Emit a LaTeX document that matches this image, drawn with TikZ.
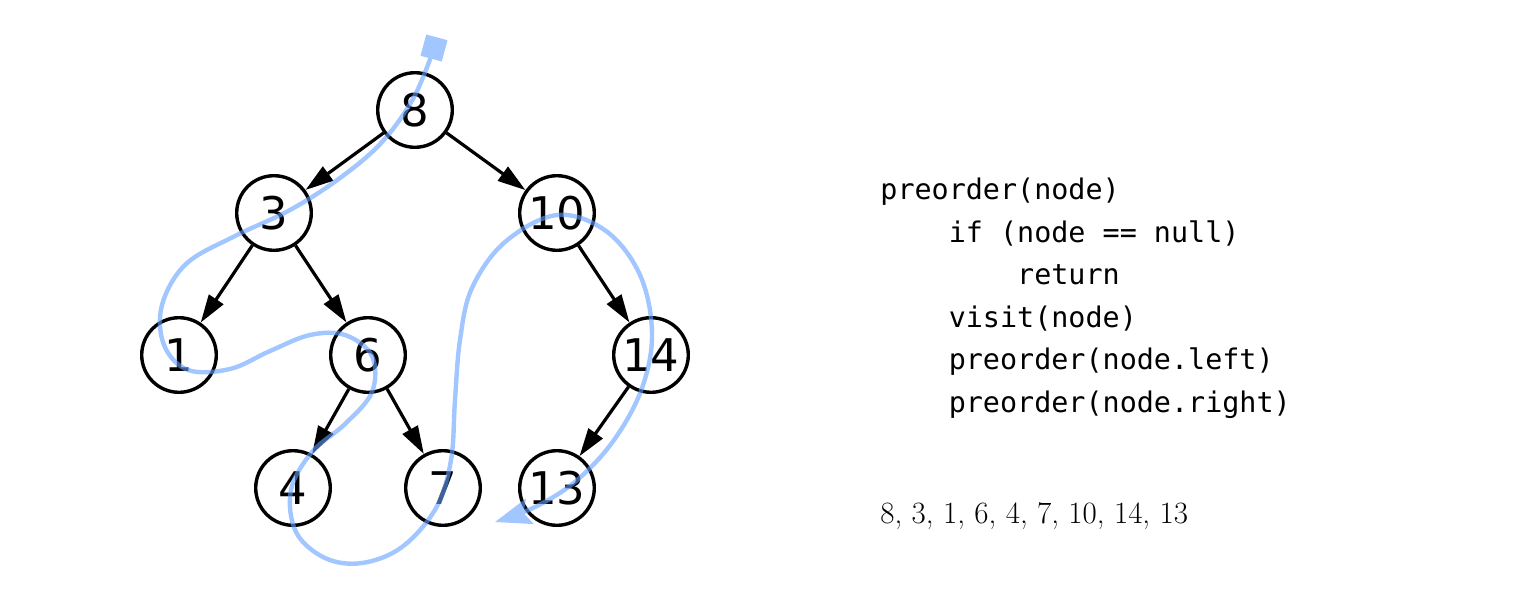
\documentclass[tikz,border=0pt]{standalone}
\usepackage{fontspec}
\newfontfamily\nodefont{DejaVu Sans}
\newfontfamily\codefont{DejaVu Sans Mono}
\usetikzlibrary{arrows.meta}

\definecolor{trail}{RGB}{100,160,255}
\newcommand\indentstep{\phantom{xxxx}}

\begin{document}
\begin{tikzpicture}[x=0.5pt,y=-0.5pt,
  tree/.style={circle, draw, line width=1.7pt, minimum size=37.3pt, inner sep=0pt,
    font=\nodefont\fontsize{22.5}{22.5}\selectfont},
  link/.style={line width=1.6pt, -{Triangle[length=14pt,width=8.5pt]}},
  walk/.style={draw=trail, line width=2.2pt,
    -{Stealth[length=18pt,width=13pt,inset=3pt]}},
  startmark/.style={fill=trail, minimum size=11pt, inner sep=0pt, rotate=-15},
  code/.style={anchor=base west, inner sep=0pt, font=\codefont\fontsize{14.2}{17}\selectfont},
  result/.style={anchor=base west, inner sep=0pt, font=\fontsize{15.5}{18}\selectfont}]
\useasboundingbox (0,0) rectangle (1515,600);

% binary search tree
\node[tree] (n8)  at (415,110) {8};
\node[tree] (n3)  at (274,213) {3};
\node[tree] (n10) at (557,213) {10};
\node[tree] (n1)  at (179,355) {1};
\node[tree] (n6)  at (368,355) {6};
\node[tree] (n14) at (651,355) {14};
\node[tree] (n4)  at (293,488) {4};
\node[tree] (n7)  at (443,488) {7};
\node[tree] (n13) at (557,488) {13};

\draw[link] (n8) -- (n3);
\draw[link] (n8) -- (n10);
\draw[link] (n3) -- (n1);
\draw[link] (n3) -- (n6);
\draw[link] (n10) -- (n14);
\draw[link] (n6) -- (n4);
\draw[link] (n6) -- (n7);
\draw[link] (n14) -- (n13);

% traversal path around the tree, translucent over the tree
\begin{scope}[transparency group, opacity=0.6]
\node[startmark] (walkstart) at (434,48) {};
\draw[walk] plot[smooth, tension=0.6] coordinates {
  (walkstart.center) (414,97) (382,142) (340,178) (290,210) (235,236)
  (186,264) (162,305) (164,345) (188,370) (230,369) (270,351)
  (310,335) (345,335) (372,356) (372,392) (345,424) (312,452)
  (291,490) (296,532) (325,558) (362,563) (402,547) (436,508)
  (451,460) (455,400) (460,340) (472,288) (505,242) (557,215)
  (606,231) (640,275) (652,333) (642,388) (614,440) (576,481)
  (535,507) (495,522)};
\end{scope}

% pseudocode
\node[code] (c1) at (880,199) {preorder(node)};
\node[code] (c2) at (880,242) {\indentstep if (node == null)};
\node[code] (c3) at (880,284) {\indentstep\indentstep return};
\node[code] (c4) at (880,327) {\indentstep visit(node)};
\node[code] (c5) at (880,369) {\indentstep preorder(node.left)};
\node[code] (c6) at (880,412) {\indentstep preorder(node.right)};

% visiting order
\node[result] (order) at (880,523) {8, 3, 1, 6, 4, 7, 10, 14, 13};
\end{tikzpicture}
\end{document}
